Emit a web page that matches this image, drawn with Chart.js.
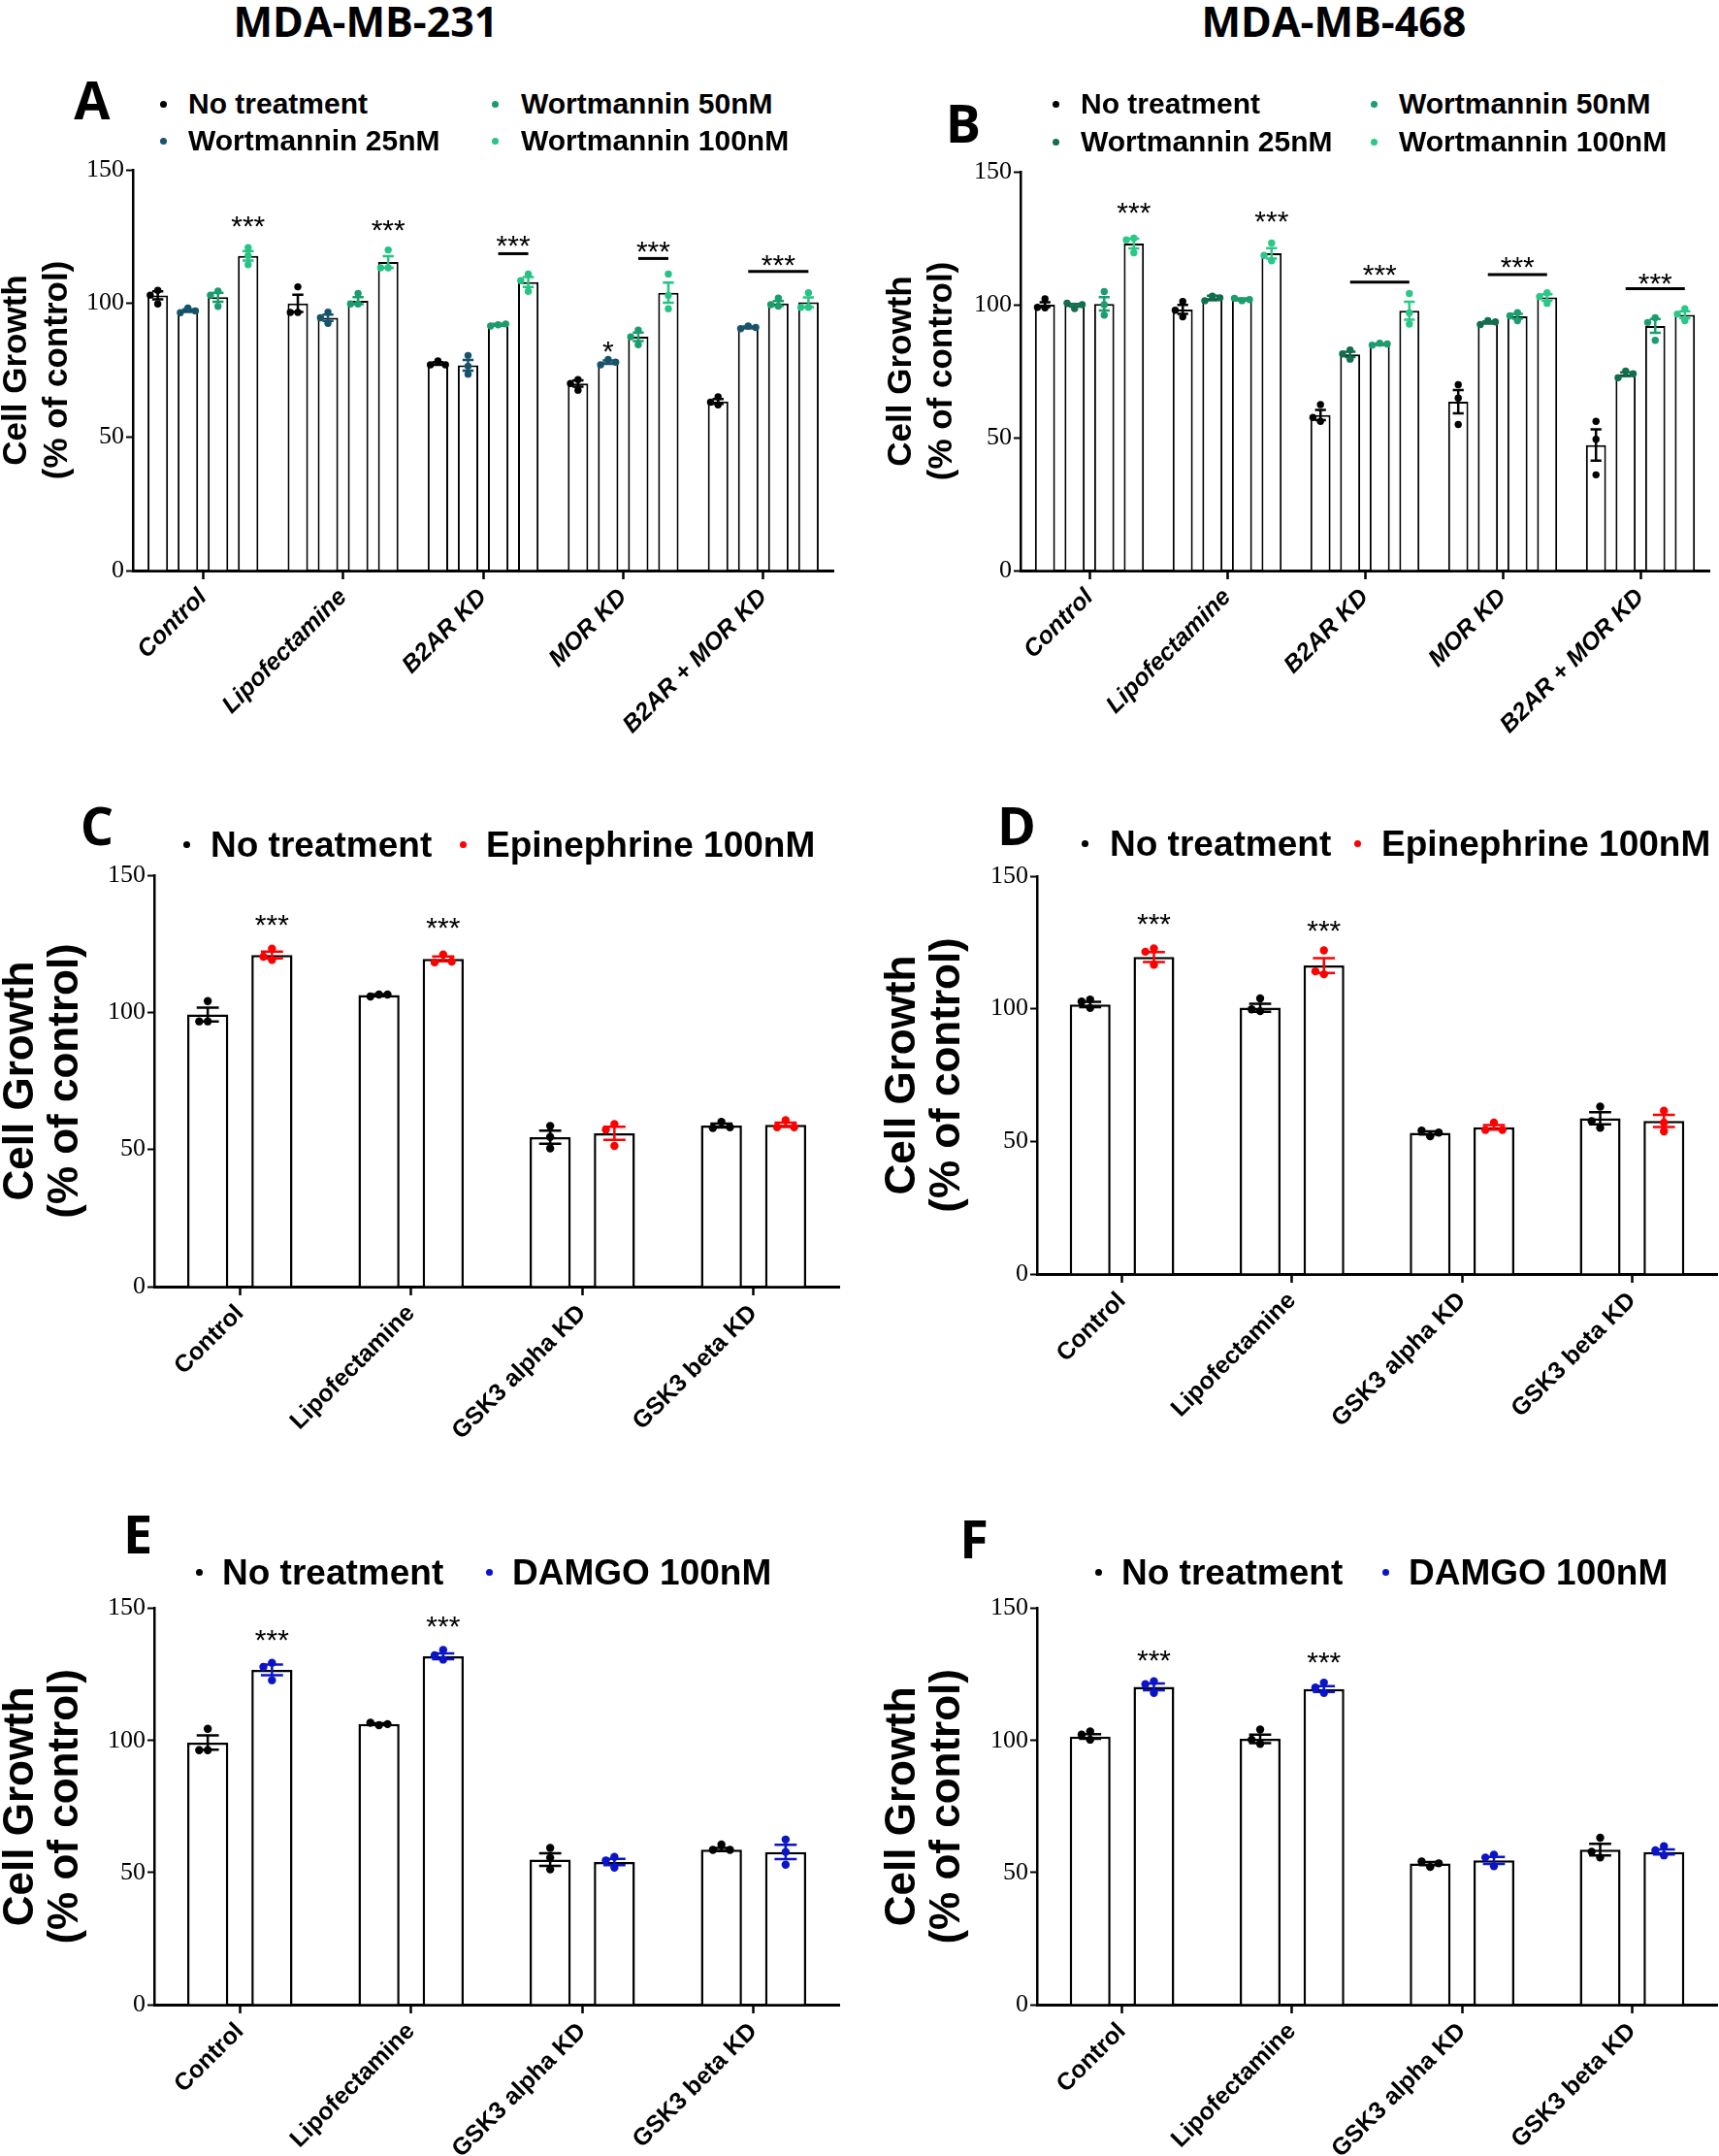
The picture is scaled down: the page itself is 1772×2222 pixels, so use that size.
<!DOCTYPE html>
<html>
<head>
<meta charset="utf-8">
<script src="https://cdn.jsdelivr.net/npm/chart.js@4.4.0/dist/chart.umd.min.js"></script>
<style>
body { margin: 0; background: #fff; }
#page { position: relative; width: 1772px; height: 2222px; overflow: hidden; background: #fff; color: #000; }
canvas { position: absolute; }
.t { position: absolute; white-space: nowrap; line-height: 1; }
.dot { position: absolute; border-radius: 50%; }
</style>
</head>
<body>
<div id="page"></div>
<script>
// ---- data ----
var groups231 = ['Control', 'Lipofectamine', 'B2AR KD', 'MOR KD', 'B2AR + MOR KD'];
var groupsGsk = ['Control', 'Lipofectamine', 'GSK3 alpha KD', 'GSK3 beta KD'];
var yTicks = [0, 50, 100, 150];

var wortLabels = ['No treatment', 'Wortmannin 25nM', 'Wortmannin 50nM', 'Wortmannin 100nM'];
var epiLabels = ['No treatment', 'Epinephrine 100nM'];
var damgoLabels = ['No treatment', 'DAMGO 100nM'];

// A: MDA-MB-231, wortmannin  (rows = series, cols = groups)
var aMeans = [
  [103, 100, 77.5, 70, 63.3],
  [97.3, 94.6, 76.8, 78, 91],
  [102.3, 101, 92, 87.5, 100],
  [117.8, 115.5, 108, 104, 100.4]
];
var aSems = [
  [1.5, 3.2, 0.5, 1.2, 0.9],
  [0.5, 1.2, 2.0, 0.6, 0.3],
  [1.7, 1.3, 0.3, 1.6, 0.9],
  [1.8, 2.2, 1.9, 3.8, 1.8]
];
var aPoints = [
  [[104.9, 99.8, 103.1], [106.2, 96.6, 96.6], [78.5, 77, 77], [71.5, 67.5, 70], [65, 62, 63]],
  [[98.3, 96.5, 97.2], [96.7, 92.5, 94.6], [80.5, 73.5, 76.5], [79, 77, 78], [91.5, 90.5, 91]],
  [[104.6, 98.9, 103.1], [103.7, 99.8, 99.8], [92, 91.5, 92.3], [90, 84.5, 87.5], [102, 99, 99.5]],
  [[120.9, 114.5, 117.9], [120, 113.3, 113.3], [111, 104.5, 108.5], [111, 98, 103], [104, 98.5, 98.5]]
];
var aStars = [[0, 3, 131.5, '***'], [1, 3, 130, '***'], [3, 1, 84.8, '*']];      // group, series, value, text
var aBrackets = [[2, 2, 3, 118.6, 124.2], [3, 2, 3, 116.8, 122.2], [4, 1, 3, 112, 117]]; // group, from, to, line, stars

// B: MDA-MB-468, wortmannin
var bMeans = [
  [100, 98.2, 58.5, 63.5, 47.2],
  [99.8, 102.5, 81.3, 93.3, 73.8],
  [100.3, 102, 85.1, 95.6, 92],
  [123, 119.3, 97.7, 102.7, 96.2]
];
var bSems = [
  [0.9, 1.7, 1.9, 4.4, 5.9],
  [0.5, 0.9, 1.0, 0.4, 0.7],
  [2.5, 0.4, 0.2, 0.9, 2.6],
  [1.8, 2.0, 3.4, 1.2, 1.3]
];
var bPoints = [
  [[102.2, 98.8, 99], [101.2, 95.4, 97.9], [62.4, 56.1, 57.6], [69.9, 64.9, 54.9], [56.1, 49.4, 36]],
  [[98.5, 100.6, 100], [103.2, 101.5, 102.6], [83, 79.5, 81.5], [94, 92.5, 93.5], [75, 72.5, 74]],
  [[104.9, 100, 96.1], [101.5, 102.4, 101.9], [85.5, 84.8, 85.2], [97, 94, 95.8], [95.1, 86.6, 93.3]],
  [[125, 119.5, 124.4], [123.2, 116.5, 118.5], [104.2, 92.7, 96.9], [104.5, 100.5, 103], [98.5, 94, 96.5]]
];
var bStars = [[0, 3, 137.2, '***'], [1, 3, 134.1, '***']];
var bBrackets = [[2, 1, 3, 108.5, 114], [3, 1, 3, 111.3, 117.1], [4, 1, 3, 106, 110.8]];

// C: MDA-MB-231, epinephrine
var cMeans = [[99.2, 106.3, 54.5, 58.7], [120.9, 119.5, 55.9, 59]];
var cSems = [[2.5, 0.3, 2.4, 0.7], [1.2, 0.9, 2.4, 0.8]];
var cPoints = [
  [[104.1, 96.7, 96.7], [106.5, 105.8, 106.5], [58.6, 54.6, 50.4], [60.1, 57.8, 58.1]],
  [[123.2, 119.1, 120.3], [121.1, 118.2, 118.5], [59.3, 57.2, 51.3], [60.7, 58.1, 58.1]]
];
var cStars = [[0, 1, 134.6, '***'], [1, 1, 133.4, '***']];

// D: MDA-MB-468, epinephrine
var dMeans = [[101.6, 100.4, 53.2, 58.7], [119.5, 116.3, 55.3, 57.7]];
var dSems = [[1.0, 1.5, 0.6, 2.3], [1.9, 2.8, 0.9, 2.3]];
var dPoints = [
  [[103.5, 100.3, 102.7], [103.9, 99.1, 99.8], [51.9, 54.1, 53.3], [63.1, 55.1, 57.6]],
  [[122.8, 116.6, 121.5], [122, 113, 114.1], [57.1, 54.3, 54.3], [61.6, 53.8, 57.1]]
];
var dStars = [[0, 1, 134.8, '***'], [1, 1, 132.4, '***']];

// E: MDA-MB-231, DAMGO
var eMeans = [[99.2, 106.2, 54.9, 58.7], [126.7, 131.9, 54, 57.8]];
var eSems = [[2.7, 0.3, 2.4, 0.6], [2.0, 1.1, 1.2, 2.7]];
var ePoints = [
  [[104.4, 96.3, 96.3], [105.8, 106.7, 106.2], [59.3, 55.6, 51.2], [60.6, 58.6, 58.6]],
  [[129.4, 122.8, 127.8], [134.3, 130.6, 132.2], [55.9, 51.9, 54.6], [62.5, 57.8, 53]]
];
var eStars = [[0, 1, 140.9, '***'], [1, 1, 146.1, '***']];

// F: MDA-MB-468, DAMGO
var fMeans = [[101.5, 100.6, 53.4, 58.7], [120.3, 119.5, 54.6, 57.8]];
var fSems = [[0.9, 1.6, 0.6, 2.2], [1.3, 1.1, 1.3, 1.0]];
var fPoints = [
  [[103.4, 100.3, 102.2], [104.1, 98.7, 100.3], [52.1, 54.2, 53.5], [63.2, 55.7, 57.9]],
  [[122.4, 118, 121.3], [121.9, 118, 120], [56.8, 52.4, 55.7], [60, 56.5, 58.4]]
];
var fStars = [[0, 1, 133.1, '***'], [1, 1, 132.2, '***']];

// ---- styles ----
var colors231 = ['#000000', '#17546b', '#1a9d6d', '#26c484'];
var colors468 = ['#000000', '#126e4c', '#1b9e6e', '#2ac886'];
var epiColors = ['#000000', '#ff0000'];
var damgoColors = ['#000000', '#0a14c8'];

var page = document.getElementById('page');

function addText(str, x, y, css, center) {
  var d = document.createElement('div');
  d.className = 't';
  d.textContent = str;
  d.style.left = x + 'px';
  d.style.top = y + 'px';
  d.style.transform = center ? 'translate(-50%,-50%)' : 'translateY(-50%)';
  Object.assign(d.style, css);
  page.appendChild(d);
}

function addDot(x, y, r, color) {
  var d = document.createElement('div');
  d.className = 'dot';
  d.style.left = (x - r) + 'px';
  d.style.top = (y - r) + 'px';
  d.style.width = d.style.height = (2 * r) + 'px';
  d.style.background = color;
  page.appendChild(d);
}

function extrasPlugin(p) {
  return {
    id: 'extras',
    afterDatasetsDraw: function(chart) {
      var ctx = chart.ctx, ys = chart.scales.y;
      ctx.save();
      chart.data.datasets.forEach(function(ds, i) {
        var col = p.colors[i];
        chart.getDatasetMeta(i).data.forEach(function(bar, j) {
          var r = p.dotR, placed = [];
          p.points[i][j].forEach(function(v) {
            var py = ys.getPixelForValue(v), dx = 0, steps = [0, -1, 1, -2, 2];
            for (var k = 0; k < steps.length; k++) {
              dx = steps[k] * r * 2.1;
              var free = placed.every(function(q) { return Math.hypot(q[0] - dx, q[1] - py) >= r * 2; });
              if (free) break;
            }
            placed.push([dx, py]);
            ctx.beginPath();
            ctx.arc(bar.x + dx, py, r, 0, Math.PI * 2);
            ctx.fillStyle = col;
            ctx.fill();
          });
          var m = p.means[i][j], e = p.sems[i][j];
          var yt = ys.getPixelForValue(m + e), yb = ys.getPixelForValue(m - e), cw = bar.width * 0.27;
          ctx.strokeStyle = col;
          ctx.lineWidth = p.errW;
          ctx.beginPath();
          ctx.moveTo(bar.x, yt); ctx.lineTo(bar.x, yb);
          ctx.moveTo(bar.x - cw, yt); ctx.lineTo(bar.x + cw, yt);
          ctx.moveTo(bar.x - cw, yb); ctx.lineTo(bar.x + cw, yb);
          ctx.stroke();
        });
      });
      ctx.fillStyle = '#000';
      ctx.textAlign = 'center';
      ctx.textBaseline = 'alphabetic';
      ctx.font = p.starSize + 'px "Liberation Sans"';
      var off = 0.58 * p.starSize;
      (p.stars || []).forEach(function(s) {
        var bar = chart.getDatasetMeta(s[1]).data[s[0]];
        ctx.fillText(s[3], bar.x, ys.getPixelForValue(s[2]) + off);
      });
      (p.brackets || []).forEach(function(b) {
        var b1 = chart.getDatasetMeta(b[1]).data[b[0]], b2 = chart.getDatasetMeta(b[2]).data[b[0]];
        var ly = ys.getPixelForValue(b[3]);
        ctx.strokeStyle = '#000';
        ctx.lineWidth = 3;
        ctx.beginPath(); ctx.moveTo(b1.x, ly); ctx.lineTo(b2.x, ly); ctx.stroke();
        ctx.fillText('***', (b1.x + b2.x) / 2, ys.getPixelForValue(b[4]) + off);
      });
      ctx.restore();
    }
  };
}

function makePanel(p) {
  var cv = document.createElement('canvas');
  cv.width = p.box[2];
  cv.height = p.box[3];
  cv.style.left = p.box[0] + 'px';
  cv.style.top = p.box[1] + 'px';
  page.appendChild(cv);

  var datasets = p.labels.map(function(lab, i) {
    return {
      label: lab,
      data: p.means[i],
      backgroundColor: '#ffffff',
      borderColor: '#000000',
      borderWidth: p.barBorder,
      categoryPercentage: p.catPct,
      barPercentage: p.barPct
    };
  });

  new Chart(cv, {
    type: 'bar',
    data: { labels: p.groups, datasets: datasets },
    options: {
      responsive: false,
      maintainAspectRatio: false,
      animation: false,
      layout: { padding: { left: 0, bottom: 0, top: p.area[1] - p.box[1], right: p.box[0] + p.box[2] - p.area[2] } },
      plugins: { legend: { display: false }, tooltip: { enabled: false } },
      scales: {
        x: {
          grid: { offset: false, drawOnChartArea: false, tickLength: 9, tickWidth: 2.5, tickColor: '#000' },
          border: { color: '#000', width: 3 },
          ticks: {
            color: '#000', autoSkip: false, maxRotation: 45, minRotation: 45, padding: 4,
            font: { family: 'Liberation Sans', size: 25, weight: 'bold', style: p.xItalic ? 'italic' : 'normal' }
          },
          afterFit: function(s) { s.height = p.box[1] + p.box[3] - p.area[3]; }
        },
        y: {
          min: yTicks[0],
          max: yTicks[yTicks.length - 1],
          ticks: { stepSize: yTicks[1] - yTicks[0], color: '#000', padding: 2,
                   font: { family: 'Liberation Sans Narrow', size: 26 } },
          grid: { drawOnChartArea: false, tickLength: 7, tickWidth: 2, tickColor: '#000' },
          border: { color: '#000', width: 2.5 },
          title: {
            display: true,
            text: ['Cell Growth', '(% of control)'],
            color: '#000',
            padding: 0,
            font: { family: 'Liberation Sans', size: p.titleSize, weight: 'bold', lineHeight: p.titleLH }
          },
          afterFit: function(s) { s.width = p.area[0] - p.box[0]; }
        }
      }
    },
    plugins: [extrasPlugin(p)]
  });

  // panel letter
  addText(p.letter[0], p.letter[1], p.letter[2],
    { fontFamily: '"Open Sans"', fontWeight: '700', fontSize: '54px' }, true);

  // legend
  p.legend.forEach(function(it, i) {
    addDot(it[0], it[2], p.legR, p.colors[i]);
    addText(p.labels[i], it[1], it[2],
      { fontFamily: '"Liberation Sans"', fontWeight: '700', fontSize: p.legSize + 'px' }, false);
  });
}

// column titles
addText('MDA-MB-231', 377, 21, { fontFamily: '"Open Sans"', fontWeight: '700', fontSize: '43px' }, true);
addText('MDA-MB-468', 1375, 21, { fontFamily: '"Open Sans"', fontWeight: '700', fontSize: '43px' }, true);

var wideStyle = { barBorder: 2, catPct: 0.86, barPct: 0.68, xItalic: true, titleSize: 35, titleLH: 1.2,
                  dotR: 3.7, errW: 2.5, starSize: 30, legSize: 30, legR: 3.5 };
var pairStyle = { barBorder: 2.5, catPct: 0.75, barPct: 0.64, xItalic: false, titleSize: 44, titleLH: 1.05,
                  dotR: 4.2, errW: 2.5, starSize: 30, legSize: 37, legR: 3.5 };

makePanel(Object.assign({}, wideStyle, {
  box: [-4, 150, 890, 630], area: [137, 175, 859, 588],
  groups: groups231, labels: wortLabels, colors: colors231,
  means: aMeans, sems: aSems, points: aPoints, stars: aStars, brackets: aBrackets,
  letter: ['A', 95, 102],
  legend: [[168, 194, 107], [168, 194, 145], [510, 537, 107], [510, 537, 145]]
}));

makePanel(Object.assign({}, wideStyle, {
  box: [908, 150, 864, 630], area: [1052, 177, 1762, 588],
  groups: groups231, labels: wortLabels, colors: colors468,
  means: bMeans, sems: bSems, points: bPoints, stars: bStars, brackets: bBrackets,
  letter: ['B', 993, 126],
  legend: [[1088, 1114, 107], [1088, 1114, 146], [1416, 1442, 107], [1416, 1442, 146]]
}));

makePanel(Object.assign({}, pairStyle, {
  box: [-1, 880, 887, 620], area: [159, 902, 865, 1326],
  groups: groupsGsk, labels: epiLabels, colors: epiColors,
  means: cMeans, sems: cSems, points: cPoints, stars: cStars,
  letter: ['C', 100, 850],
  legend: [[192, 217, 870], [477, 501, 870]]
}));

makePanel(Object.assign({}, pairStyle, {
  box: [908, 880, 864, 620], area: [1069, 903, 1770, 1313],
  groups: groupsGsk, labels: epiLabels, colors: epiColors,
  means: dMeans, sems: dSems, points: dPoints, stars: dStars,
  letter: ['D', 1048, 850],
  legend: [[1118, 1144, 869], [1399, 1424, 869]]
}));

makePanel(Object.assign({}, pairStyle, {
  box: [-1, 1640, 887, 582], area: [159, 1655, 865, 2066],
  groups: groupsGsk, labels: damgoLabels, colors: damgoColors,
  means: eMeans, sems: eSems, points: ePoints, stars: eStars,
  letter: ['E', 142, 1580],
  legend: [[205, 229, 1620], [504, 528, 1620]]
}));

makePanel(Object.assign({}, pairStyle, {
  box: [908, 1640, 864, 582], area: [1069, 1656, 1770, 2066],
  groups: groupsGsk, labels: damgoLabels, colors: damgoColors,
  means: fMeans, sems: fSems, points: fPoints, stars: fStars,
  letter: ['F', 1004, 1585],
  legend: [[1132, 1156, 1620], [1428, 1452, 1620]]
}));
</script>
</body>
</html>
